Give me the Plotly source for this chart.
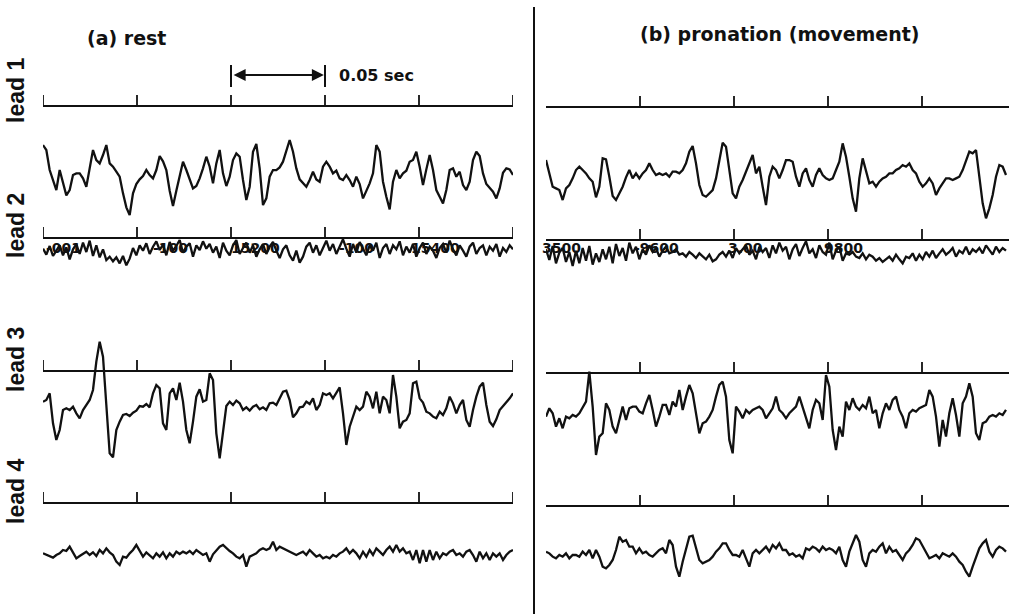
import numpy as np
import plotly.graph_objects as go

# ---------------------------------------------------------------------------
# Recorded sweeps (arbitrary amplitude units, positive = upward deflection),
# digitised at 564 samples per second.
# ---------------------------------------------------------------------------
SAMPLE_MS = 1000 / 564
TIME_MARKS_MS = [0, 50, 100, 150, 200, 250]
SCALE_BAR_MS = (100, 150)
SCALE_BAR_LABEL = "0.05 sec"
PANEL_TITLES = ["(a) rest", "(b) pronation (movement)"]
LEAD_NAMES = ["lead 1", "lead 2", "lead 3", "lead 4"]
REST_COUNTER_TEXT = ["-001", "-100", "15200", "-100", "15400"]
PRON_COUNTER_TEXT = ["3500", "-9600", "3.00", "9800"]

rest_lead1 = [
    95, 80, 20, -10, -40, 20, -20, -56, -40, 5,
    10, 10, -5, -30, 25, 80, 50, 40, 65, 95,
    40, 30, 15, 0, -50, -92, -115, -50, -22, -8,
    2, 20, 5, -5, 20, 62, 46, 20, -42, -88,
    -42, 0, 45, 20, -5, -35, -28, -5, 25, 60,
    30, -20, 40, 80, 10, -28, 0, 50, 70, 60,
    -10, -70, -30, 75, 98, 25, -85, -65, 0, 20,
    20, 28, 45, 80, 110, 75, 25, -8, -20, -30,
    -10, 15, -8, -15, 30, 45, 30, 10, 18, -5,
    -10, 5, -10, -30, 0, -22, -65, -45, -20, 10,
    95, 75, -15, -60, -98, -15, 20, -5, 10, 18,
    45, 50, 75, 30, -25, 22, 65, 20, -40, -60,
    -80, -40, 20, 25, 0, 15, -25, -40, -15, 50,
    75, 62, 10, -22, -35, -45, -65, -35, 12, 25,
    22, 5,
]

rest_lead2 = [
    10, -8, 18, -12, 4, 20, -10, 14, -22, 8,
    24, -6, 28, 0, 34, -12, 20, -16, 8, -24,
    -14, -28, -16, -34, -12, -40, -20, 12, -10, 20,
    4, 26, -6, 16, 32, 6, 22, -10, 30, 4,
    18, 36, -2, 16, 26, -14, 20, 6, 32, 10,
    24, -2, 16, -18, 28, 4, -10, 20, 36, -6,
    12, 28, -2, 20, -14, 8, 24, -6, 16, 30,
    4, -18, 8, 20, -10, -26, 4, -32, -14, 16,
    28, -2, 20, -10, 12, 34, 4, 24, -6, 16,
    38, 10, -14, 24, -2, 30, 8, -10, 20, 4,
    28, -18, 12, 24, -6, 20, 8, 32, -10, 16,
    -2, 24, -14, 12, 28, -6, 16, 4, -18, 12,
    24, -2, 34, 8, -10, 20, 4, -14, 16, 28,
    -6, 12, 20, -10, 16, 4, 24, -14, 12, 0,
    20, 8,
]

rest_lead3 = [
    25, 30, 50, -40, -90, -60, 0, 5, 0, 10,
    -10, -25, 0, 15, 30, 60, 145, 205, 160, 15,
    -130, -142, -60, -35, -15, -12, -18, -8, -2, 12,
    10, 18, 8, 50, 75, 65, -40, -60, 50, 65,
    30, 82, 25, -60, -100, -35, 40, 62, 25, 30,
    110, 90, -70, -145, -60, 12, 25, 15, 28, 20,
    0, 8, -2, 10, 15, 2, 8, 0, 20, 22,
    15, 35, 55, 58, 30, -22, -10, 8, 10, 25,
    18, 35, 0, 15, 50, 45, 50, 35, 50, 68,
    -10, -105, -50, -20, 10, 0, 10, 55, 40, 5,
    55, -10, 40, 30, -10, 105, 40, -55, -35, -30,
    -10, 80, 85, 35, 22, -5, -10, -20, -25, -5,
    -15, 5, 40, 20, -10, 15, 30, -30, -50, 0,
    40, 70, 82, 15, -35, -48, -28, 0, 12, 22,
    35, 50,
]

rest_lead4 = [
    5, 0, -5, -8, 0, 5, 15, 12, 25, 5,
    -10, -3, 3, 10, 0, 8, -3, 15, 5, 20,
    8, 0, -20, -30, -5, -8, 5, 15, 30, 12,
    -5, 8, 0, -10, 5, -5, 8, -10, 5, -5,
    10, 3, 10, 5, 12, 3, 15, 8, 0, 5,
    -20, 2, 15, 25, 30, 20, 12, 5, -5, -10,
    0, -35, -5, 0, 5, 15, 20, 15, 20, 40,
    15, 25, 20, 15, 10, 5, 0, 5, 10, 0,
    15, 5, -5, 0, -10, -5, -10, 0, -5, 5,
    10, 20, 5, 15, 5, -10, 10, -5, 15, 0,
    20, 10, 0, 15, 25, 10, 30, 10, 20, 5,
    10, -15, 15, -25, 15, -20, 15, -15, 10, -10,
    5, 0, 10, 15, 0, 5, -5, 10, 15, 0,
    -20, 10, -10, 5, -15, 5, -5, 5, -15, 0,
    10, 15,
]

pron_lead1 = [
    50, 10, -30, -35, -40, -70, -35, -25, -5, 20,
    30, 20, 10, -5, -15, -62, -30, 55, 52, 0,
    -58, -70, -52, -30, -2, 20, -5, 10, -5, 10,
    20, 40, 20, 5, 10, 5, 10, 0, 15, 15,
    10, 20, 40, 75, 92, 40, -25, -55, -60, -50,
    -40, -5, 50, 102, 90, 20, -50, -65, -30, -10,
    15, 35, 65, 10, 30, -30, -85, 0, 30, 20,
    -5, 20, 50, 50, 45, 0, -30, 10, 25, -10,
    -30, 5, 25, 5, -5, -10, -5, 20, 45, 100,
    60, 0, -65, -105, -5, 55, 20, -20, -15, -30,
    -15, -5, 0, 10, 10, 20, 25, 35, 30, 40,
    20, 10, -15, -30, -20, -5, -20, -55, -35, -20,
    -5, -5, -10, -5, 0, 20, 50, 75, 70, 80,
    0, -80, -125, -95, -55, 0, 35, 30, 5,
]

pron_lead2 = [
    20, -12, 30, -22, 10, 24, -18, 12, -30, 16,
    -22, 24, -14, 30, -26, 8, -18, 20, -10, 28,
    -22, 36, 0, 24, -14, 40, 8, 28, -10, 20,
    4, 32, 12, 24, -2, 16, 28, 8, 12, 20,
    4, 8, -2, 12, 4, -6, 8, -2, -10, 4,
    -16, -10, 4, 12, -2, 16, -6, 24, 8, 20,
    32, 4, 16, -10, 28, 12, 24, -6, 32, 8,
    40, 16, 28, -10, 20, 36, 0, 24, 44, 8,
    20, -6, 32, 12, 4, 40, -10, 16, 28, -14,
    8, 4, 12, -2, -6, 8, -10, 4, -2, -14,
    -6, -18, -10, -2, -14, 4, -10, -22, -2, -6,
    8, -14, 4, -10, 12, -2, 16, -6, 8, 20,
    4, 12, 24, -2, 16, 8, 28, 4, 20, 12,
    24, 8, 32, 16, 4, 28, 12, 24, 16,
]

pron_lead3 = [
    -10, 15, 0, -40, -15, -45, -10, -15, -5, -10,
    0, 20, 35, 125, 20, -125, -70, -60, 30, 10,
    -40, -60, -20, 20, -20, 15, 20, 20, 5, 0,
    30, 55, 10, -40, -10, 25, 25, -5, 35, 20,
    70, 10, 50, 85, 60, 0, -60, -30, -25, -10,
    10, 50, 85, 95, 50, -80, -120, 20, 5, -15,
    10, 0, 10, 15, 20, 10, -15, 0, 15, 50,
    10, 0, -15, 0, 10, 20, 50, 20, -10, -45,
    10, 40, 30, -20, 115, 80, -50, -110, -40, -70,
    35, 10, 45, 20, 10, 25, 15, 50, 0, 10,
    -45, 0, 30, 10, 40, 50, 10, -10, -45, 0,
    10, 5, 15, 20, 25, 70, 50, -10, -100, -20,
    -70, 0, 45, -5, -70, 30, 50, 90, 50, -60,
    -80, -30, -25, -10, -5, -10, 0, -5, 10,
]

pron_lead4 = [
    10, 5, -5, -10, 0, -5, 5, -10, 0, 0,
    -5, 10, 0, 15, -10, 15, -5, -35, -40, -30,
    -15, 15, 55, 40, 45, 25, 25, 5, 20, 5,
    10, 0, -5, 5, 15, 20, 5, 45, 30, -35,
    -65, -20, 20, 55, 58, 25, -15, -25, -20, -15,
    -5, 10, 20, 35, 35, 15, 0, 0, -5, 15,
    -10, -35, 5, 15, 5, 15, 25, 10, 30, 20,
    35, 15, 15, 0, 5, -5, 0, -10, 20, 15,
    25, 20, 10, 25, 15, 20, 15, 5, 25, -15,
    -35, 10, 35, 60, 40, -15, -35, 5, 15, 10,
    25, 35, 5, 25, 10, 15, 0, -15, 5, 15,
    30, 50, 45, 25, 5, -10, -5, 0, -10, 5,
    0, -5, 5, -5, -20, -30, -50, -65, -35, -5,
    20, 35, 45, 10, -5, 15, 25, 20, 10,
]

REST = [rest_lead1, rest_lead2, rest_lead3, rest_lead4]
PRON = [pron_lead1, pron_lead2, pron_lead3, pron_lead4]

# ---------------------------------------------------------------------------
# Page geometry: one shared vertical "row" axis, one time axis per panel
# ---------------------------------------------------------------------------
W, H = 1009, 614
PX_PER_MS = 1.88
GAIN = 1 / 3          # rows per amplitude unit
TICK_LEN = 11
INK = "#111111"

panels = [
    dict(xref="x", span=250, marks=TIME_MARKS_MS,
         base_rows=[106, 238, 371, 503], trace_rows=[176.7, 252, 410, 555],
         sweeps=REST),
    dict(xref="x2", span=(W - 546) / PX_PER_MS, marks=TIME_MARKS_MS[1:-1],
         base_rows=[107, 240, 373, 506], trace_rows=[176.7, 256, 413.3, 555],
         sweeps=PRON),
]

fig = go.Figure()

for p in panels:
    # time-marker baselines with upward ticks
    for base in p["base_rows"]:
        xs, ys = [0, p["span"]], [base, base]
        for m in p["marks"]:
            xs += [None, m, m]
            ys += [None, base, base - TICK_LEN]
        fig.add_trace(go.Scatter(x=xs, y=ys, mode="lines", xaxis=p["xref"], yaxis="y",
                                 line=dict(color=INK, width=1.8), hoverinfo="skip",
                                 showlegend=False))
    # recorded sweeps
    for row, sweep in zip(p["trace_rows"], p["sweeps"]):
        v = np.asarray(sweep, dtype=float)
        t = np.arange(len(v)) * SAMPLE_MS
        fig.add_trace(go.Scatter(x=t, y=row - v * GAIN, mode="lines",
                                 xaxis=p["xref"], yaxis="y",
                                 line=dict(color=INK, width=2.3), showlegend=False))

# calibration bracket over lead 1 of the rest panel
t0, t1 = SCALE_BAR_MS
fig.add_trace(go.Scatter(x=[t0, t0, None, t1, t1], y=[65, 87, None, 65, 87], mode="lines",
                         xaxis="x", yaxis="y", line=dict(color=INK, width=2),
                         hoverinfo="skip", showlegend=False))

annotations = [
    dict(x=t1 - 0.6, y=75, ax=t0 + 0.6, ay=75, xref="x", yref="y", axref="x", ayref="y",
         text="", showarrow=True, arrowhead=2, arrowside="end+start", arrowsize=1.2,
         arrowwidth=2, arrowcolor=INK),
    dict(x=t1 + 6.5, y=75, xref="x", yref="y", text=f"<b>{SCALE_BAR_LABEL}</b>",
         showarrow=False, xanchor="left", yanchor="middle",
         font=dict(family="DejaVu Sans", size=16, color=INK)),
    dict(x=44.5, y=38, xref="x", yref="y", text=f"<b>{PANEL_TITLES[0]}</b>", showarrow=False,
         xanchor="center", yanchor="middle",
         font=dict(family="DejaVu Sans", size=19, color=INK)),
    dict(x=124.5, y=34, xref="x2", yref="y", text=f"<b>{PANEL_TITLES[1]}</b>", showarrow=False,
         xanchor="center", yanchor="middle",
         font=dict(family="DejaVu Sans", size=19, color=INK)),
]

for name, row in zip(LEAD_NAMES, [91, 226, 360, 492]):
    annotations.append(dict(x=16 / W, y=row, xref="paper", yref="y", text=f"<b>{name}</b>",
                            showarrow=False, textangle=-90, xanchor="center",
                            yanchor="middle",
                            font=dict(family="Liberation Sans", size=23, color=INK)))

# frame-counter numerals printed across the lead 2 sweeps
for txt, t in zip(REST_COUNTER_TEXT, [11, 68, 113, 167, 209]):
    annotations.append(dict(x=t, y=248, xref="x", yref="y", text=f"<b>{txt}</b>",
                            showarrow=False,
                            font=dict(family="DejaVu Sans", size=14, color=INK)))
for txt, t in zip(PRON_COUNTER_TEXT, [8, 59, 106, 158]):
    annotations.append(dict(x=t, y=248, xref="x2", yref="y", text=f"<b>{txt}</b>",
                            showarrow=False,
                            font=dict(family="DejaVu Sans", size=14, color=INK)))

hidden = dict(visible=False, showgrid=False, zeroline=False, fixedrange=True)
fig.update_layout(
    width=W, height=H,
    margin=dict(l=0, r=0, t=0, b=0),
    paper_bgcolor="white", plot_bgcolor="white",
    xaxis=dict(domain=[43 / W, 513 / W], range=[0, 250], **hidden),
    xaxis2=dict(domain=[546 / W, 1], range=[0, (W - 546) / PX_PER_MS], **hidden),
    yaxis=dict(domain=[0, 1], range=[H, 0], **hidden),
    annotations=annotations,
    shapes=[dict(type="line", xref="paper", yref="paper", x0=534 / W, x1=534 / W,
                 y0=0, y1=1 - 7 / H, line=dict(color=INK, width=2))],
    showlegend=False,
)

fig.write_html("out.html")
